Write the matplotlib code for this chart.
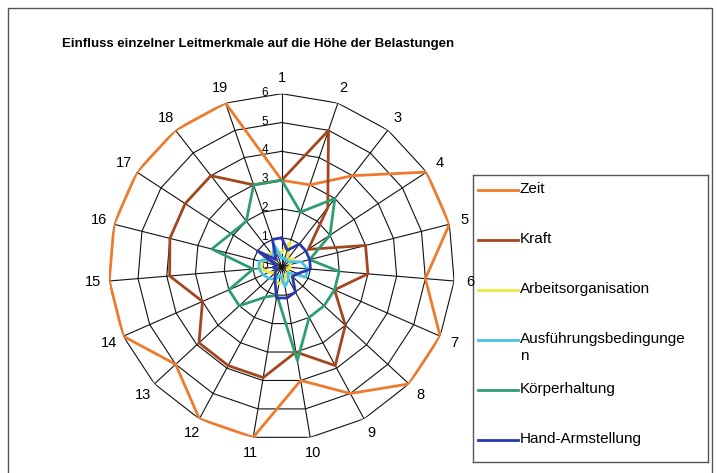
import numpy as np
import matplotlib
matplotlib.use('Agg')
import matplotlib.pyplot as plt
from matplotlib.transforms import ScaledTranslation

plt.rcParams['font.family'] = ['Liberation Sans', 'DejaVu Sans']

title = 'Einfluss einzelner Leitmerkmale auf die Höhe der Belastungen'
categories = [str(i) for i in range(1, 20)]
ring_labels = ['0', '1', '2', '3', '4', '5', '6']

# values per axis 1..19
zeit = [3, 3, 4, 6, 6, 5, 6, 6, 5, 4, 6, 6, 5, 6, 6, 6, 6, 6, 6]
kraft = [3, 5, 2.6, 1.1, 3, 3, 2, 3, 3.9, 3, 3.9, 3.9, 3.9, 3, 3.9, 4, 4, 4, 3]
arbeitsorg = [0.5, 0.9, 0.3, 0.5, 0.3, 0.3, 0.2, 0.5, 0.3, 0.5, 0.6, 0.5, 0.3, 0.5, 0.7, 0.7, 0.7, 0.6, 0.5]
ausfuehrung = [0.3, 0.3, 0.3, 0.3, 0.7, 0.9, 0.9, 0.3, 0.5, 0.7, 0.3, 0.5, 0.6, 0.7, 0.8, 0.8, 0.5, 0.5, 0.8]
koerper = [3, 2, 3, 2, 1, 2, 2, 2, 2, 3.3, 1, 1.2, 2, 2, 1, 2.5, 2.1, 2, 3]
handarm = [1.0, 0.6, 1.0, 1.0, 1.0, 1.0, 0.6, 0.5, 1.0, 1.1, 1.1, 0.5, 0.3, 0.2, 0.3, 0.2, 1.0, 0.3, 1.0]

series = [zeit, kraft, arbeitsorg, ausfuehrung, koerper, handarm]
names = ['Zeit', 'Kraft', 'Arbeitsorganisation', 'Ausführungsbedingunge\nn',
         'Körperhaltung', 'Hand-Armstellung']
colors = ['#F07A2C', '#A3461E', '#EDE640', '#45C4E6', '#2E9E72', '#2A38AE']

fig = plt.figure(figsize=(7.17, 4.73), dpi=100)

# outer chart border
fig.patches.append(plt.Rectangle((8 / 717, -0.05), 704 / 717, 1.05 - 8 / 473,
                                 transform=fig.transFigure, fill=False,
                                 edgecolor='#555555', lw=1.0))

fig.text(258 / 717, 1 - 44 / 473, title, ha='center', va='center',
         fontsize=9.5, fontweight='bold')

# legend box (drawn first so the radar labels stay on top)
lax = fig.add_axes([473 / 717, (473 - 462) / 473, (708 - 473) / 717, (462 - 175) / 473])
lax.set_facecolor('none')
lax.set_xlim(473, 708)
lax.set_ylim(462, 175)
lax.set_xticks([])
lax.set_yticks([])
for s in lax.spines.values():
    s.set_color('#555555')
    s.set_linewidth(1.0)
for i, (name, c) in enumerate(zip(names, colors)):
    y = 190 + 50 * i
    lax.plot([478, 518], [y, y], color=c, lw=2.0)
    lax.text(520, y - 8, name, va='top', ha='left', fontsize=11, linespacing=1.3)

ax = fig.add_axes([0.1516, 0.0704, 0.4826, 0.7315], projection='polar')
ax.set_theta_zero_location('N')
ax.set_theta_direction(-1)
ax.set_facecolor('none')
angles = np.linspace(0, 2 * np.pi, len(categories), endpoint=False)
closed = np.append(angles, angles[0])

ax.grid(False)
ax.spines['polar'].set_visible(False)
ax.set_ylim(0, 6)
ax.set_yticks([])

# polygon grid and spokes
for r in range(1, 7):
    ax.plot(closed, [r] * len(closed), color='#111111', lw=0.8, zorder=1)
for a in angles:
    ax.plot([a, a], [0, 6], color='#111111', lw=0.8, zorder=1)

# radial scale labels next to axis 1
off = ax.transData + ScaledTranslation(-0.17, 0.01, fig.dpi_scale_trans)
for r, lab in enumerate(ring_labels):
    ax.text(0, r, lab, transform=off, ha='center', va='center', fontsize=8.5, zorder=0.5)

ax.set_xticks(angles)
ax.set_xticklabels(categories, fontsize=10.5)
ax.tick_params(axis='x', pad=1)

for vals, c in zip(series, colors):
    ax.plot(closed, vals + vals[:1], color=c, lw=2.0, zorder=3)

fig.savefig('out.png', dpi=100)
